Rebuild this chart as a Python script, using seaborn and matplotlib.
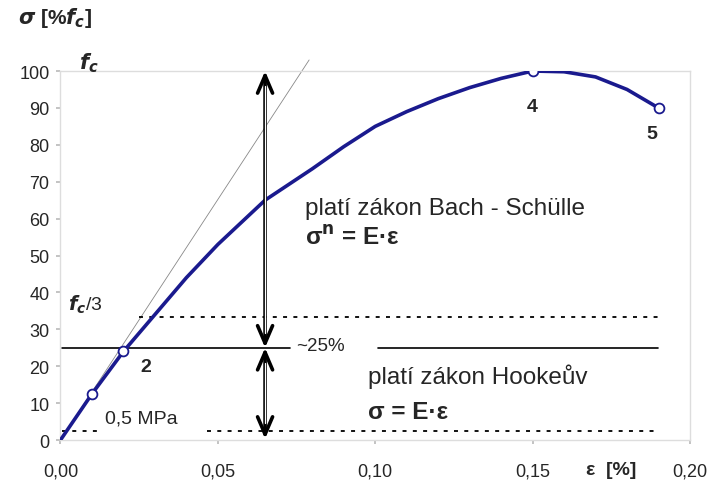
import matplotlib
matplotlib.use("Agg")
import matplotlib.pyplot as plt
import seaborn as sns
import pandas as pd

sns.set_theme(style="white")
plt.rcParams['font.family'] = ['Liberation Sans', 'DejaVu Sans']

# stress-strain curve
strain = [0.0, 0.01, 0.02, 0.03, 0.04, 0.05, 0.065, 0.08, 0.09, 0.10,
          0.11, 0.12, 0.13, 0.14, 0.15, 0.16, 0.17, 0.18, 0.19]
stress = [0, 12.5, 24, 34, 44, 53, 65, 73.5, 79.5, 85,
          89, 92.5, 95.5, 98, 100, 99.8, 98.4, 95, 90]

# marked points
mark_x = [0.01, 0.02, 0.15, 0.19]
mark_y = [12.5, 24, 100, 90]

# tangent (initial modulus)
tan_x = [0.0, 0.079]
tan_y = [0, 103]

x_ticks = [0.0, 0.05, 0.10, 0.15, 0.20]
x_labels = ["0,00", "0,05", "0,10", "0,15", "0,20"]
y_ticks = list(range(0, 101, 10))

navy = "#1a1a8e"

df = pd.DataFrame({"strain": strain, "stress": stress})

fig = plt.figure(figsize=(7.1, 4.85), dpi=100)
ax = fig.add_axes([0.0852, 0.0907, 0.8866, 0.7608])

ax.plot(tan_x, tan_y, color="#888888", lw=0.6, clip_on=False, zorder=1)
sns.lineplot(data=df, x="strain", y="stress", color=navy, lw=2.6, ax=ax, zorder=3)
ax.scatter(mark_x, mark_y, s=50, facecolor="white", edgecolor=navy, linewidth=1.3, zorder=4)

# horizontal reference lines
dots = (0, (2.2, 3.5))
ax.plot([0.0005, 0.073], [25, 25], color="black", lw=1.2, zorder=2)
ax.plot([0.1008, 0.1897], [25, 25], color="black", lw=1.2, zorder=2)
ax.plot([0.025, 0.19], [33.3, 33.3], color="black", lw=1.3, ls=dots, zorder=2)
ax.plot([0.0005, 0.0125], [2.4, 2.4], color="black", lw=1.3, ls=dots, zorder=2)
ax.plot([0.0465, 0.19], [2.4, 2.4], color="black", lw=1.3, ls=dots, zorder=2)

# double arrows
ax_x = 0.065
for y0, y1 in [(25, 100), (25, 0.3)]:
    ax.annotate("", xy=(ax_x, y1), xytext=(ax_x, y0),
                arrowprops=dict(arrowstyle="<->,head_length=0.7,head_width=0.3",
                                lw=2.6, color="black", shrinkA=0, shrinkB=0,
                                mutation_scale=18),
                zorder=5)
ax.plot([ax_x, ax_x], [29, 96], color="white", lw=0.9, zorder=6)
ax.plot([ax_x, ax_x], [21, 4.5], color="white", lw=0.9, zorder=6)

# texts
ax.text(0.0058, 102.5, r"$\mathbfit{f}_{\mathbfit{c}}$", fontsize=15, va="center")
ax.text(0.0025, 37, r"$\mathbfit{f}_{\mathbfit{c}}$/3", fontsize=14, va="center")
ax.text(0.0255, 20, "2", fontsize=14, fontweight="bold", va="center")
ax.text(0.0142, 6, "0,5 MPa", fontsize=14, va="center")
ax.text(0.148, 90.5, "4", fontsize=14, fontweight="bold", va="center")
ax.text(0.186, 83, "5", fontsize=14, fontweight="bold", va="center")
ax.text(0.075, 25.5, "~25%", fontsize=13.5, va="center")
ax.text(0.0776, 63, "platí zákon Bach - Schülle", fontsize=17.5, va="center")
ax.text(0.0776, 55, "σ$^{\\mathbf{n}}$ = E·ε", fontsize=17.5,
        fontweight="bold", va="center")
ax.text(0.0976, 17.5, "platí zákon Hookeův", fontsize=17.5, va="center")
ax.text(0.0976, 7.6, "σ = E·ε", fontsize=17.5, fontweight="bold", va="center")
ax.text(0.167, -8, "ε  [%]", fontsize=14, fontweight="bold",
        va="center", clip_on=False)
fig.text(0.025, 0.962, r"$\mathbfit{\sigma}$ [%$\mathbfit{f}_{\mathbfit{c}}$]",
         fontsize=15, fontweight="bold", va="center")

ax.set_xlim(0, 0.2)
ax.set_ylim(0, 100)
ax.set_xticks(x_ticks)
ax.set_xticklabels(x_labels)
ax.set_yticks(y_ticks)
ax.set_xlabel("")
ax.set_ylabel("")
ax.tick_params(axis="both", labelsize=13, length=3, color="#bbbbbb", bottom=True, left=True)
ax.tick_params(axis="x", pad=13)
ax.tick_params(axis="y", pad=5)
for sp in ax.spines.values():
    sp.set_color("#dddddd")
    sp.set_linewidth(1)

fig.savefig("out.png", dpi=100)
